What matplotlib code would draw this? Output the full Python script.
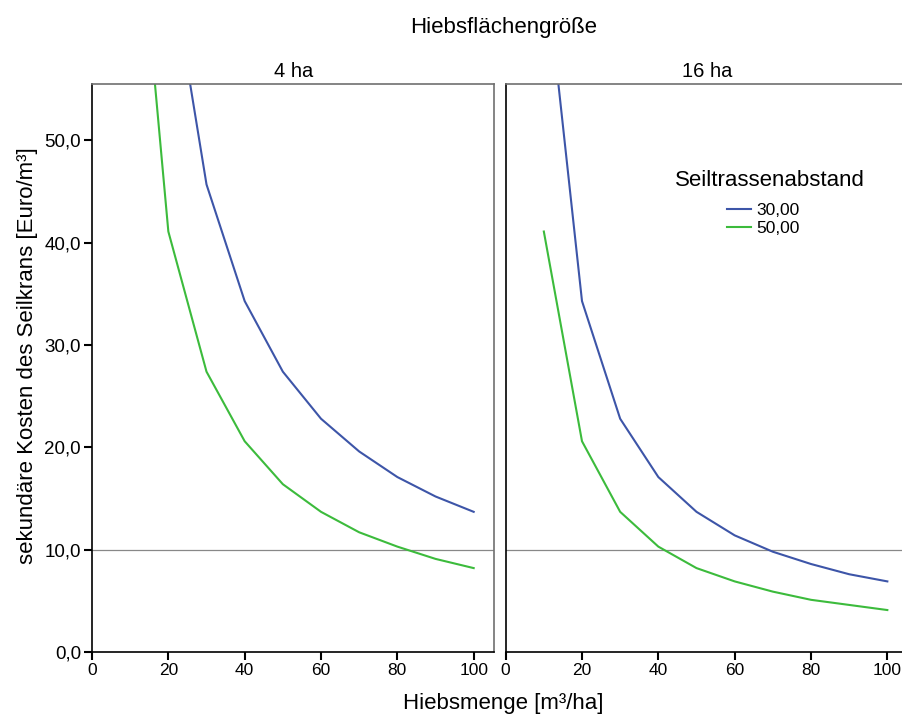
import matplotlib.pyplot as plt

plt.rcParams['font.family'] = ['Liberation Sans', 'DejaVu Sans']

# Hiebsmenge [m3/ha]
menge = [10, 20, 30, 40, 50, 60, 70, 80, 90, 100]

# 4 ha
ha4_30 = [137.1, 68.6, 45.7, 34.3, 27.4, 22.8, 19.6, 17.1, 15.2, 13.7]
ha4_50 = [82.2, 41.1, 27.4, 20.6, 16.4, 13.7, 11.7, 10.3, 9.1, 8.2]
# 16 ha
ha16_30 = [68.6, 34.3, 22.8, 17.1, 13.7, 11.4, 9.8, 8.6, 7.6, 6.9]
ha16_50 = [41.1, 20.6, 13.7, 10.3, 8.2, 6.9, 5.9, 5.1, 4.6, 4.1]

panels = ['4 ha', '16 ha']
series_names = ['30,00', '50,00']
yticks = [0, 10, 20, 30, 40, 50]
ytick_labels = ['0,0', '10,0', '20,0', '30,0', '40,0', '50,0']
xticks = [0, 20, 40, 60, 80, 100]

blue = '#3d55a8'
green = '#3cbb3c'

fig = plt.figure(figsize=(9.02, 7.16), dpi=100)
ax1 = fig.add_axes([0.102, 0.0894, 0.446, 0.793])
ax2 = fig.add_axes([0.5606, 0.0894, 0.446, 0.793])

data = [(ha4_30, ha4_50), (ha16_30, ha16_50)]

for ax, title, (s30, s50) in zip([ax1, ax2], panels, data):
    ax.axhline(10, color='#888888', lw=0.9, zorder=1)
    ax.plot(menge, s30, color=blue, lw=1.5, label=series_names[0])
    ax.plot(menge, s50, color=green, lw=1.5, label=series_names[1])
    ax.set_xlim(0, 105.4)
    ax.set_ylim(0, 55.5)
    ax.set_xticks(xticks)
    ax.set_yticks(yticks)
    ax.tick_params(direction='out', length=6, width=1.5, labelsize=12.5, pad=2)
    ax.spines['left'].set_color('black')
    ax.spines['bottom'].set_color('black')
    ax.spines['top'].set_color('#707070')
    ax.spines['right'].set_color('#707070')
    for s in ax.spines.values():
        s.set_linewidth(1.2)
    ax.set_title(title, fontsize=14.5, pad=5)

ax1.set_yticklabels(ytick_labels, fontsize=13.5)
ax2.tick_params(axis='y', left=False, labelleft=False)
ax2.spines['right'].set_visible(False)

ax2.text(0.657, 0.831, 'Seiltrassenabstand', transform=ax2.transAxes,
         ha='center', va='center', fontsize=16)
ax2.legend(loc='center left', bbox_to_anchor=(0.55, 0.762), frameon=False,
           fontsize=12.5, handlelength=1.4, handletextpad=0.3,
           labelspacing=0.2, borderpad=0, borderaxespad=0)

fig.text(0.558, 0.962, 'Hiebsflächengröße', ha='center', va='center', fontsize=16)
fig.text(0.558, 0.018, 'Hiebsmenge [m³/ha]', ha='center', va='center', fontsize=16)
fig.text(0.031, 0.503, 'sekundäre Kosten des Seilkrans [Euro/m³]', ha='center',
         va='center', rotation=90, fontsize=16)

fig.savefig('out.png', dpi=100)
